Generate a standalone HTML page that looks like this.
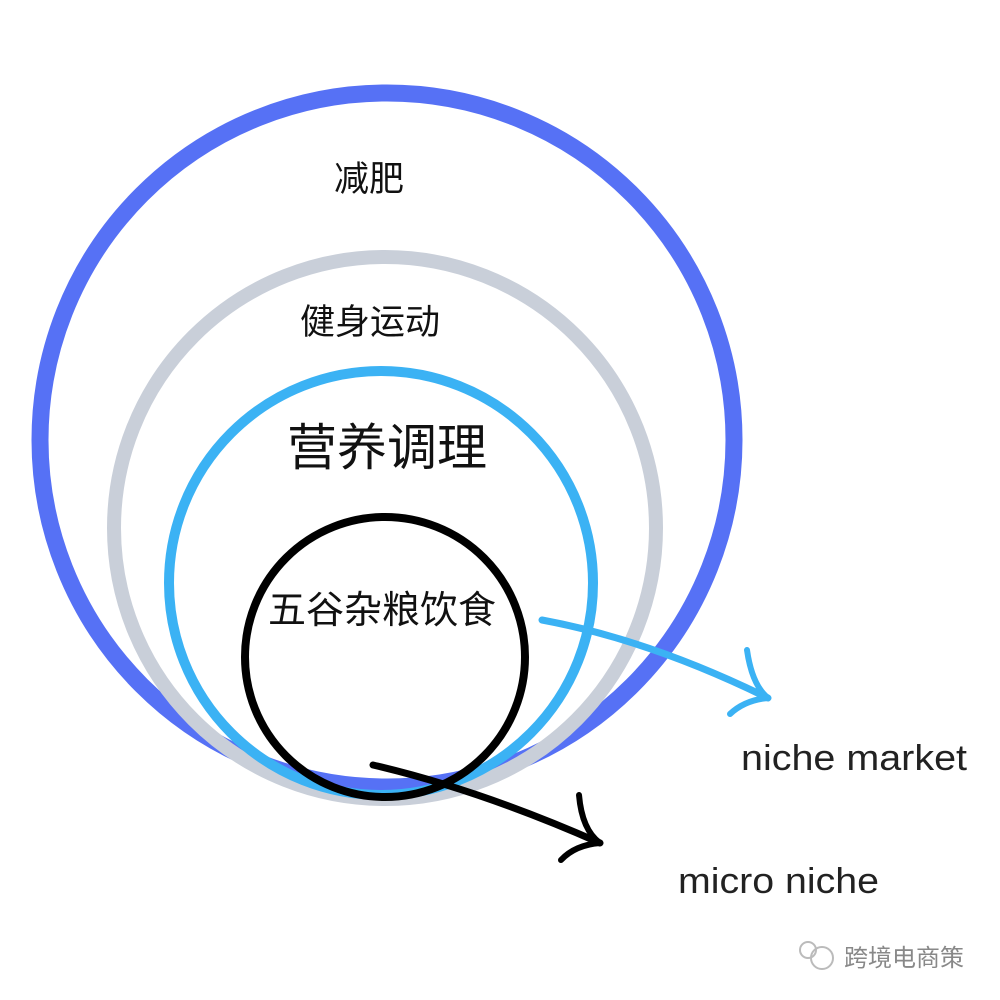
<!DOCTYPE html>
<html><head><meta charset="utf-8"><style>
html,body{margin:0;padding:0;background:#fff;width:1000px;height:1000px;overflow:hidden}
</style></head><body>
<svg width="1000" height="1000" viewBox="0 0 1000 1000" xmlns="http://www.w3.org/2000/svg">
<rect width="1000" height="1000" fill="#fff"/>
<circle cx="387" cy="440" r="347" fill="none" stroke="#5671f5" stroke-width="17"/>
<circle cx="385" cy="528" r="271" fill="none" stroke="#c9cfd9" stroke-width="14"/>
<circle cx="381" cy="583" r="212" fill="none" stroke="#3bb2f4" stroke-width="10"/>
<circle cx="385" cy="657" r="140" fill="none" stroke="#000" stroke-width="8"/>
<g font-family="Liberation Sans, Noto Sans CJK SC, sans-serif" fill="#111">
<text x="369" y="191" font-size="35" text-anchor="middle">减肥</text>
<text x="370" y="334" font-size="35" text-anchor="middle">健身运动</text>
<text x="387" y="465" font-size="50" text-anchor="middle">营养调理</text>
<text x="382" y="623" font-size="38" text-anchor="middle">五谷杂粮饮食</text>
<text x="741" y="770" font-size="36" fill="#222" textLength="226" lengthAdjust="spacingAndGlyphs">niche market</text>
<text x="678" y="893" font-size="36" fill="#222" textLength="201" lengthAdjust="spacingAndGlyphs">micro niche</text>
<text x="844" y="966" font-size="24" fill="#888">跨境电商策</text>
</g>
<g fill="none" stroke-linecap="round" stroke-linejoin="round">
<path d="M542 620 Q650 640 768 698" stroke="#3bb2f4" stroke-width="7"/>
<path d="M747 650 Q752 685 768 698 Q745 700 730 714" stroke="#3bb2f4" stroke-width="6"/>
<path d="M373 765 Q480 790 600 843" stroke="#000" stroke-width="7"/>
<path d="M579 795 Q582 830 600 843 Q575 845 561 860" stroke="#000" stroke-width="6"/>
</g>
<g fill="none" stroke="#bbb" stroke-width="2">
<circle cx="822" cy="958" r="11"/>
<circle cx="808" cy="950" r="8"/>
</g>
</svg>
</body></html>
